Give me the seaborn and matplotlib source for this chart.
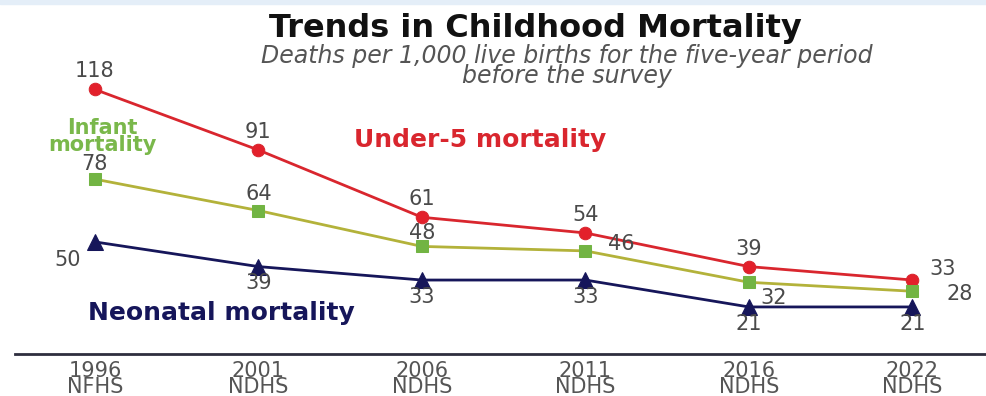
import pandas as pd
import seaborn as sns
import matplotlib.pyplot as plt
from matplotlib.patches import Rectangle

# survey rounds and rates (deaths per 1,000 live births)
years = ['1996', '2001', '2006', '2011', '2016', '2022']
surveys = ['NFHS', 'NDHS', 'NDHS', 'NDHS', 'NDHS', 'NDHS']
under5 = [118, 91, 61, 54, 39, 33]
infant = [78, 64, 48, 46, 32, 28]
neonatal = [50, 39, 33, 33, 21, 21]

labels = [f'{y}\n{s}' for y, s in zip(years, surveys)]
df = pd.DataFrame({'survey': labels, 'under5': under5, 'infant': infant, 'neonatal': neonatal})

sns.set_style('white')
plt.rcParams['font.family'] = ['DejaVu Sans']

fig = plt.figure(figsize=(9.86, 3.96), dpi=100)
ax = fig.add_axes([0.015, 0.106, 0.985, 0.736])

# thin pale band along the top edge
fig.patches.append(Rectangle((0, 0.99), 1, 0.01, transform=fig.transFigure,
                             color='#e4eef8', zorder=0))

red = '#d9262e'
green_line = '#b3b23a'
green_mark = '#72b443'
navy = '#16165a'
num_col = '#4a4a4a'

sns.lineplot(data=df, x='survey', y='under5', ax=ax, sort=False, color=red, lw=2,
             marker='o', markersize=9, markeredgecolor=red, markerfacecolor='#e3202b')
sns.lineplot(data=df, x='survey', y='infant', ax=ax, sort=False, color=green_line, lw=2,
             marker='s', markersize=9, markeredgecolor=green_mark, markerfacecolor=green_mark)
sns.lineplot(data=df, x='survey', y='neonatal', ax=ax, sort=False, color=navy, lw=2,
             marker='^', markersize=11, markeredgecolor=navy, markerfacecolor=navy)

ax.set_xlim(-0.49, 5.45)
ax.set_ylim(0, 130)
ax.set_xlabel('')
ax.set_ylabel('')
ax.set_yticks([])
ax.tick_params(axis='x', length=0, pad=5, labelsize=15, labelcolor='#555555')
for t in ax.get_xticklabels():
    t.set_linespacing(0.75)

for side in ['top', 'right', 'left']:
    ax.spines[side].set_visible(False)
ax.spines['bottom'].set_color('#2e2e3e')
ax.spines['bottom'].set_linewidth(2)

# value labels: offsets in points (dx, dy)
u5_off = [(0, 13), (0, 13), (0, 13), (0, 13), (0, 13), (22, 8)]
inf_off = [(0, 11), (0, 12), (0, 10), (26, 5), (18, -11), (34, -2)]
neo_off = [(-20, -13), (0, -12), (0, -12), (0, -12), (0, -12), (0, -12)]
for series, offs in [(under5, u5_off), (infant, inf_off), (neonatal, neo_off)]:
    for i, (v, (dx, dy)) in enumerate(zip(series, offs)):
        ax.annotate(str(v), xy=(i, v), xytext=(dx, dy), textcoords='offset points',
                    ha='center', va='center', fontsize=15, color=num_col)

# series names
fig.text(0.487, 0.647, 'Under-5 mortality', fontsize=18, fontweight='bold', color=red,
         ha='center', va='center')
fig.text(0.104, 0.655, 'Infant\nmortality', fontsize=15, fontweight='bold', color='#7ab84b',
         ha='center', va='center', linespacing=0.8)
fig.text(0.225, 0.21, 'Neonatal mortality', fontsize=18, fontweight='bold', color=navy,
         ha='center', va='center')

# title block
fig.text(0.543, 0.928, 'Trends in Childhood Mortality', fontsize=23, fontweight='bold',
         color='#111111', ha='center', va='center')
fig.text(0.575, 0.833, 'Deaths per 1,000 live births for the five-year period\nbefore the survey',
         fontsize=17, style='italic', color='#555555', ha='center', va='center', linespacing=0.8)

fig.savefig('out.png', dpi=100)
